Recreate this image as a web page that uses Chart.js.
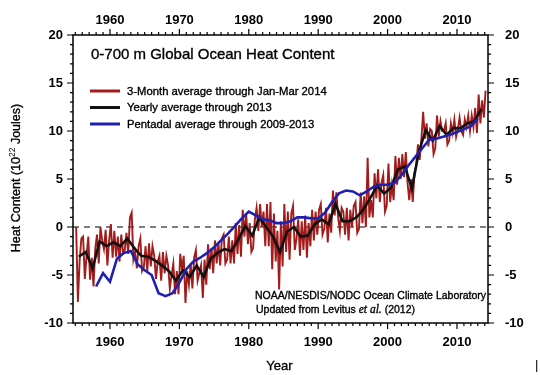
<!DOCTYPE html>
<html><head><meta charset="utf-8">
<script src="https://cdn.jsdelivr.net/npm/chart.js@4/dist/chart.umd.min.js"></script>
<style>html,body{margin:0;padding:0;background:#fff}#wrap{width:540px;height:375px}</style>
</head><body><div id="wrap"><canvas id="c" width="540" height="375"></canvas></div>
<script>
// ---- data ----
const redStartYear = 1955; // quarterly values, Jan-Mar 1955 .. Jan-Mar 2014
const red3Month = [
 0.0,-7.8,-3.5,-1.2,  -1.0,-5.4,-3.0,-1.0,  -5.5,-3.2,-6.2,-2.3,  -0.8,-3.8,0.0,-1.4,  -2.3,-0.3,-4.0,-1.4,
 0.3,-3.2,-0.4,-3.1,  -1.0,-3.6,-0.8,-2.6,  -2.4,-0.6,-2.8,1.0,   1.5,-3.4,-2.6,-4.3,  -2.0,-1.2,-4.6,-4.2,
 -2.0,-4.6,-1.7,-4.1, -2.0,-3.0,-5.4,-3.6,  -3.0,-5.6,-2.6,-4.8,  -3.0,-4.0,-6.4,-5.0, -3.8,-7.0,-4.6,-7.0,
 -2.8,-4.4,-3.0,-7.9, -4.6,-6.0,-3.8,-6.4,  -3.2,-2.4,-5.6,-4.8,  -4.0,-7.4,-3.4,-6.0, -1.8,-4.4,-2.2,-4.8,
 -1.4,-3.8,-1.6,-4.0, -1.2,-0.8,-3.8,-3.4,  -1.0,-3.8,-1.4,-3.8,  0.4,-2.8,0.2,-3.1,   1.8,-1.0,1.4,-1.8,
 0.4,-2.6,-2.2,0.8,   2.0,-0.4,2.4,0.0,     1.6,-2.0,2.4,-2.0,    2.6,-4.4,1.4,-3.6,   -0.4,-6.5,0.6,-4.1,
 2.4,-2.6,1.6,-3.4,   1.4,2.2,-2.4,-1.2,    0.8,-3.0,0.6,-2.4,    1.2,-3.2,0.4,-2.0,   1.8,-1.4,1.6,-0.8,
 1.8,2.4,-0.8,-0.2,   2.0,-1.6,1.4,-0.6,    3.8,1.2,3.6,1.0,      -0.4,2.0,1.6,-0.8,   2.0,-1.4,1.8,0.0,
 2.2,2.6,-0.6,-0.2,   3.6,0.4,3.2,0.0,      7.2,1.0,2.8,1.0,      5.6,3.0,6.0,2.6,     4.6,5.4,1.6,2.2,
 6.6,2.6,4.4,2.8,     7.4,4.4,7.2,5.0,      7.6,5.2,7.8,4.6,      2.8,5.0,2.6,5.6,     6.4,8.6,7.0,9.2,
 12.0,9.2,10.8,8.4,   10.2,10.0,7.6,8.2,    11.6,9.4,11.0,10.0,   10.0,10.8,8.6,9.0,   10.8,9.8,11.2,9.4,
 10.2,11.4,10.0,9.6,  11.2,10.4,11.6,10.0,  11.6,10.4,12.4,9.8,   13.8,10.8,13.2,11.4, 14.2
];
const yearlyStartYear = 1955; // 1955 .. 2013
const yearlyAvg = [
 -3.1,-2.6,-4.3,-1.5,-2.0,-1.6,-2.0,-1.2,-2.2,-3.0,
 -3.1,-3.5,-4.0,-4.6,-5.6,-4.5,-5.2,-4.0,-5.2,-3.3,
 -2.7,-2.3,-2.5,-1.3,0.1,-0.9,1.0,0.0,-1.0,-2.6,
 -0.5,0.0,-1.0,-0.9,0.3,0.8,0.3,2.4,0.6,0.6,
 1.0,1.8,3.0,4.3,3.5,4.1,6.0,6.3,4.0,7.8,
 10.1,9.0,10.5,9.6,10.3,10.3,10.8,11.0,12.3
];
const pentadalStartYear = 1958; // plotted 1958 .. 2013
const pentadalAvg = [
 -6.2,-4.8,-5.7,-3.3,-2.7,-2.5,-3.9,-4.5,-5.0,-6.9,
 -7.2,-6.9,-5.8,-4.4,-3.6,-3.2,-2.7,-2.1,-1.4,-0.7,
 0.1,0.9,1.6,1.2,0.8,0.7,0.4,0.4,0.6,1.0,
 1.0,0.9,0.9,1.5,2.6,3.5,3.8,3.7,3.3,3.7,
 4.2,4.4,4.4,4.6,5.4,6.4,7.3,8.2,9.1,9.2,
 9.4,9.6,9.9,10.2,10.5,11.3
];
const xTickYears = [1960, 1970, 1980, 1990, 2000, 2010];
const yTickValues = [-10, -5, 0, 5, 10, 15, 20];
const seriesNames = ['3-Month average through Jan-Mar 2014', 'Yearly average through 2013', 'Pentadal average through 2009-2013'];

// ---- build point lists ----
const redPts = red3Month.map((v, i) => ({x: redStartYear + (i + 0.5) / 4, y: v}));
const yearPts = yearlyAvg.map((v, i) => ({x: yearlyStartYear + i + 0.5, y: v}));
const pentPts = pentadalAvg.map((v, i) => ({x: pentadalStartYear + i, y: v}));

const COL = {red: '#a21c1c', black: '#111111', blue: '#2020b0'};
const FONT = '"Liberation Sans", Arial, Helvetica, sans-serif';

function heavyText(ctx, s, x, y) {
  ctx.fillText(s, x, y);
  ctx.lineWidth = 0.35; ctx.strokeStyle = ctx.fillStyle;
  ctx.strokeText(s, x, y);
}

const deco = {
  id: 'deco',
  beforeDatasetsDraw(chart) {
    const {ctx, chartArea: a, scales: {y}} = chart;
    const py = y.getPixelForValue(0);
    ctx.save();
    ctx.setLineDash([6, 5]);
    ctx.strokeStyle = '#555';
    ctx.lineWidth = 1.3;
    ctx.beginPath(); ctx.moveTo(a.left, py); ctx.lineTo(a.right, py); ctx.stroke();
    ctx.restore();
  },
  afterDraw(chart) {
    const {ctx, chartArea: a, scales: {x, y}} = chart;
    ctx.save();
    ctx.strokeStyle = '#000'; ctx.lineWidth = 1.5;
    ctx.strokeRect(a.left, a.top, a.right - a.left, a.bottom - a.top);
    ctx.lineWidth = 1.2;
    ctx.beginPath();
    for (let yr = Math.ceil(x.min); yr <= Math.floor(x.max); yr++) {
      const px = x.getPixelForValue(yr);
      const len = yr % 10 === 0 ? 6 : 3;
      ctx.moveTo(px, a.bottom); ctx.lineTo(px, a.bottom + len);
      ctx.moveTo(px, a.top); ctx.lineTo(px, a.top - len);
    }
    for (let v = Math.ceil(y.min); v <= Math.floor(y.max); v++) {
      const py = y.getPixelForValue(v);
      const len = v % 5 === 0 ? 6 : 3;
      ctx.moveTo(a.left, py); ctx.lineTo(a.left - len, py);
      ctx.moveTo(a.right, py); ctx.lineTo(a.right + len, py);
    }
    ctx.stroke();

    // title
    ctx.fillStyle = '#000';
    ctx.textBaseline = 'middle';
    ctx.textAlign = 'left';
    ctx.font = '15px ' + FONT;
    heavyText(ctx, '0-700 m Global Ocean Heat Content', 91, 55);

    // legend
    const lcol = [COL.red, COL.black, COL.blue];
    const ly = [91, 107.5, 124];
    ctx.font = '11.3px ' + FONT;
    for (let i = 0; i < 3; i++) {
      ctx.strokeStyle = lcol[i]; ctx.lineWidth = 3;
      ctx.beginPath(); ctx.moveTo(90, ly[i]); ctx.lineTo(120, ly[i]); ctx.stroke();
      ctx.fillStyle = '#000';
      heavyText(ctx, seriesNames[i], 127, ly[i] + 0.5);
    }

    // credit
    ctx.font = '10.5px ' + FONT;
    heavyText(ctx, 'NOAA/NESDIS/NODC Ocean Climate Laboratory', 255, 296);
    let tx = 256;
    const p1 = 'Updated from Levitus ';
    heavyText(ctx, p1, tx, 310); tx += ctx.measureText(p1).width;
    ctx.font = 'italic 11.5px "Liberation Serif", "Times New Roman", serif';
    heavyText(ctx, 'et al.', tx, 310); tx += ctx.measureText('et al.').width;
    ctx.font = '10.5px ' + FONT;
    heavyText(ctx, ' (2012)', tx, 310);

    // axis titles
    ctx.font = '13px ' + FONT;
    ctx.textAlign = 'center';
    heavyText(ctx, 'Year', (a.left + a.right) / 2 - 1, 366);
    ctx.textAlign = 'left';
    ctx.fillText('|', 535, 365);

    ctx.save();
    ctx.translate(17, 178);
    ctx.rotate(-Math.PI / 2);
    const s1 = 'Heat Content (10', s2 = '22', s3 = ' Joules)';
    ctx.font = '12.5px ' + FONT;
    const w1 = ctx.measureText(s1).width, w3 = ctx.measureText(s3).width;
    ctx.font = '8.5px ' + FONT;
    const w2 = ctx.measureText(s2).width;
    let sx = -(w1 + w2 + w3) / 2;
    ctx.font = '12.5px ' + FONT;
    heavyText(ctx, s1, sx, 0); sx += w1;
    ctx.font = '8.5px ' + FONT;
    ctx.fillText(s2, sx, -4); sx += w2;
    ctx.font = '12.5px ' + FONT;
    heavyText(ctx, s3, sx, 0);
    ctx.restore();
    ctx.restore();
  }
};

const tickFont = {family: FONT, size: 13, weight: 'bold'};
const xTickCb = v => String(v);
const yTickCb = v => String(v);
const setXTicks = s => { s.ticks = xTickYears.map(v => ({value: v})); };
const setYTicks = s => { s.ticks = yTickValues.map(v => ({value: v})); };
const xMin = 1954.67, xMax = 2014.47;

new Chart(document.getElementById('c'), {
  type: 'line',
  data: {
    datasets: [
      {label: seriesNames[2], data: pentPts, borderColor: COL.blue, borderWidth: 2.6, order: 1},
      {label: seriesNames[1], data: yearPts, borderColor: COL.black, borderWidth: 2.6, order: 2},
      {label: seriesNames[0], data: redPts, borderColor: COL.red, borderWidth: 1.9, order: 3}
    ]
  },
  options: {
    responsive: false,
    animation: false,
    parsing: false,
    layout: {padding: 0},
    elements: {point: {radius: 0}, line: {tension: 0, borderJoinStyle: 'miter'}},
    plugins: {legend: {display: false}, tooltip: {enabled: false}},
    scales: {
      x: {type: 'linear', position: 'bottom', min: xMin, max: xMax,
          grid: {display: false, drawTicks: false}, border: {display: false},
          afterBuildTicks: setXTicks,
          ticks: {autoSkip: false, maxRotation: 0, padding: 12, color: '#000', font: tickFont, callback: xTickCb},
          afterFit: s => { s.height = 52; }},
      x2: {type: 'linear', position: 'top', min: xMin, max: xMax,
          grid: {display: false, drawTicks: false}, border: {display: false},
          afterBuildTicks: setXTicks,
          ticks: {autoSkip: false, maxRotation: 0, padding: 7, color: '#000', font: tickFont, callback: xTickCb},
          afterFit: s => { s.height = 35; }},
      y: {type: 'linear', position: 'left', min: -10, max: 20,
          grid: {display: false, drawTicks: false}, border: {display: false},
          afterBuildTicks: setYTicks,
          ticks: {padding: 10, color: '#000', font: tickFont, callback: yTickCb},
          afterFit: s => { s.width = 73; }},
      y2: {type: 'linear', position: 'right', min: -10, max: 20,
          grid: {display: false, drawTicks: false}, border: {display: false},
          afterBuildTicks: setYTicks,
          ticks: {padding: 17, color: '#000', font: tickFont, callback: yTickCb},
          afterFit: s => { s.width = 52; }}
    }
  },
  plugins: [deco]
});
</script>
</body></html>
